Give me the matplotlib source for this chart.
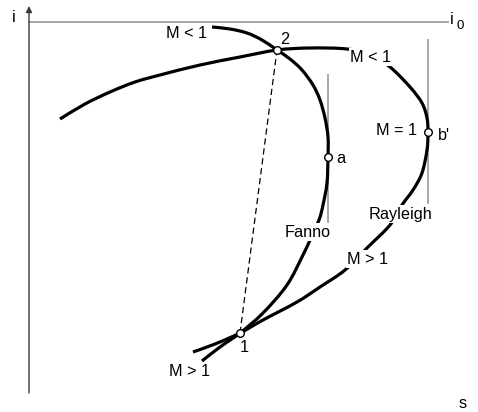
import matplotlib
matplotlib.use("Agg")
import matplotlib.pyplot as plt
from matplotlib.path import Path
from matplotlib.patches import PathPatch

plt.rcParams['font.family'] = ['Liberation Sans', 'DejaVu Sans']

H = 412  # vertical extent of the (s, i) drawing plane

# Fanno line (s, i) — drawn from top-left branch down to supersonic branch
fanno_s = [212, 230, 247, 262, 277, 290, 302, 313, 320, 325, 328, 328, 327, 323,
           319, 310, 303, 287, 263, 240, 220, 202]
fanno_i = [H - v for v in [27, 29, 33, 40, 50, 59, 70, 85, 100, 118, 137, 157, 183, 205,
                           220, 240, 255, 285, 313, 333, 347, 361]]

# Rayleigh line (s, i)
rayleigh_s = [60, 85, 110, 135, 160, 200, 240, 277, 310, 347, 370, 390, 410, 422,
              427, 428, 427, 422, 413, 402, 390, 368, 345, 320, 297, 263, 240, 215, 193]
rayleigh_i = [H - v for v in [119, 104, 92, 82, 75, 65, 57, 50, 48, 49, 55, 67, 87, 103,
                              118, 132, 150, 173, 190, 205, 225, 247, 270, 287, 302, 320,
                              333, 344, 352]]

# State points: 1, 2, a (Fanno M=1), b' (Rayleigh M=1)
point_names = ['1', '2', 'a', "b'"]
point_s = [240, 277, 328, 428]
point_i = [H - 333, H - 50, H - 157, H - 132]

# Stagnation enthalpy level
i0_level = H - 22


def smooth_path(xs, ys):
    """Cubic Bezier path through the given points (Catmull-Rom tangents)."""
    pts = list(zip(xs, ys))
    n = len(pts)
    verts = [pts[0]]
    codes = [Path.MOVETO]
    for k in range(n - 1):
        p0 = pts[k - 1] if k > 0 else pts[k]
        p1 = pts[k]
        p2 = pts[k + 1]
        p3 = pts[k + 2] if k + 2 < n else pts[k + 1]
        c1 = (p1[0] + (p2[0] - p0[0]) / 6.0, p1[1] + (p2[1] - p0[1]) / 6.0)
        c2 = (p2[0] - (p3[0] - p1[0]) / 6.0, p2[1] - (p3[1] - p1[1]) / 6.0)
        verts += [c1, c2, p2]
        codes += [Path.CURVE4] * 3
    return Path(verts, codes)


fig = plt.figure(figsize=(4.78, 4.12), dpi=100)
ax = fig.add_axes([0, 0, 1, 1])
ax.set_xlim(0, 478)
ax.set_ylim(0, H)
ax.axis('off')

axis_col = '#3a3a3a'
gray = '#a8a8a8'
fs = 11.7

# Coordinate axes with arrow heads
ax.annotate('', xy=(29, H - 6), xytext=(29, H - 393),
            arrowprops=dict(arrowstyle='-|>', lw=1.0, color=axis_col,
                            mutation_scale=9, shrinkA=0, shrinkB=0))
ax.annotate('', xy=(479, H - 393), xytext=(29, H - 393),
            arrowprops=dict(arrowstyle='-|>', lw=1.0, color=axis_col,
                            mutation_scale=9, shrinkA=0, shrinkB=0))
ax.text(14, H - 17, 'i', fontsize=fs, ha='center', va='center')
ax.text(463, H - 403, 's', fontsize=fs, ha='center', va='center')

# i0 level
ax.plot([29, 448], [i0_level, i0_level], color=gray, lw=1.4, zorder=1)
ax.text(452, i0_level + 3, 'i', fontsize=fs, ha='center', va='center')
ax.text(460, i0_level - 4, '0', fontsize=fs * 0.82, ha='center', va='center')

# Vertical tangents at the sonic points
ax.plot([328, 328], [H - 75, H - 222], color=gray, lw=1.4, zorder=1)
ax.plot([428, 428], [H - 40, H - 203], color=gray, lw=1.4, zorder=1)

# Curves
for xs, ys in ((fanno_s, fanno_i), (rayleigh_s, rayleigh_i)):
    ax.add_patch(PathPatch(smooth_path(xs, ys), facecolor='none', edgecolor='black',
                           lw=2.3, capstyle='butt', joinstyle='round', zorder=2))

# Normal shock 1 -> 2
ax.plot([point_s[0], point_s[1]], [point_i[0], point_i[1]], color='black',
        lw=0.9, ls=(0, (5, 3)), zorder=2)

# Labels
box = dict(facecolor='white', edgecolor='none', pad=1.0)
labels = [
    ('M < 1', 187, 33, None),
    ('M < 1', 371, 57, box),
    ('M = 1', 397, 130, None),
    ('Fanno', 308, 232, box),
    ('Rayleigh', 401, 214, box),
    ('M > 1', 368, 259, box),
    ('M > 1', 190, 372, None),
]
for txt, x, y, b in labels:
    ax.text(x, H - y, txt, fontsize=fs, ha='center', va='center', bbox=b, zorder=3)

point_label_pos = [(244, 348), (285, 39), (341, 158), (444, 135)]
for name, (x, y) in zip(point_names, point_label_pos):
    ax.text(x, H - y, name, fontsize=fs, ha='center', va='center', zorder=3)

ax.plot(point_s, point_i, ls='none', marker='o', ms=5.5, mfc='white',
        mec='black', mew=1.0, zorder=4)

fig.savefig('out.png', dpi=100)
